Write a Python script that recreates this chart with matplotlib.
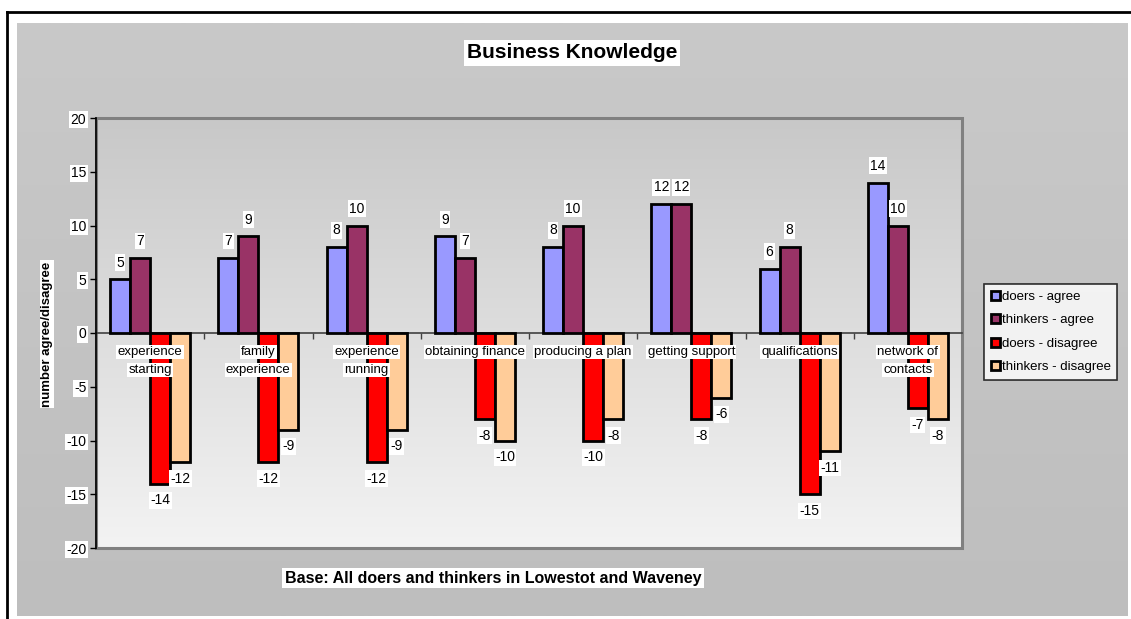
import numpy as np
import matplotlib
matplotlib.use("Agg")
import matplotlib.pyplot as plt
from matplotlib.patches import Rectangle
from matplotlib.lines import Line2D

plt.rcParams['font.family'] = ['Liberation Sans', 'DejaVu Sans']
plt.rcParams['axes.unicode_minus'] = False

# data
categories = ["experience\nstarting", "family\nexperience", "experience\nrunning",
              "obtaining finance", "producing a plan", "getting support",
              "qualifications", "network of\ncontacts"]
series_names = ["doers - agree", "thinkers - agree", "doers - disagree", "thinkers - disagree"]
doers_agree = [5, 7, 8, 9, 8, 12, 6, 14]
thinkers_agree = [7, 9, 10, 7, 10, 12, 8, 10]
doers_disagree = [-14, -12, -12, -8, -10, -8, -15, -7]
thinkers_disagree = [-12, -9, -9, -10, -8, -6, -11, -8]
colors = ["#9999FF", "#993366", "#FF0000", "#FFCC99"]

W, H = 1131, 619
fig = plt.figure(figsize=(W / 100, H / 100), dpi=100)
fig.patch.set_facecolor("white")

# outer grey chart area with soft vertical gradient
bg = fig.add_axes([17 / W, 1 - 616 / H, (1128 - 17) / W, (616 - 23) / H], zorder=-5)
grad = np.linspace(0, 1, 256).reshape(-1, 1)
bg.imshow(grad, aspect='auto', cmap=matplotlib.colors.LinearSegmentedColormap.from_list(
    'g', ["#C9C9C9", "#BEBEBE"]), extent=[0, 1, 0, 1], origin='upper')
bg.set_axis_off()

# black border (top and left)
fig.add_artist(Line2D([7 / W, 1], [1 - 12 / H, 1 - 12 / H], color='black', lw=2, transform=fig.transFigure))
fig.add_artist(Line2D([7 / W, 7 / W], [0, 1 - 12 / H], color='black', lw=2, transform=fig.transFigure))

ax = fig.add_axes([96 / W, 1 - 548 / H, (962 - 96) / W, (548 - 118) / H])
ax.set_xlim(-0.5, len(categories) - 0.5)
ax.set_ylim(-20, 20)
ax.imshow(grad, aspect='auto', cmap=matplotlib.colors.LinearSegmentedColormap.from_list(
    'p', ["#C8C8C8", "#F3F3F3"]), extent=[0, 1, 0, 1], origin='upper',
    transform=ax.transAxes, zorder=0)
ax.add_patch(Rectangle((0, 0), 1, 1, transform=ax.transAxes, fill=False,
                       edgecolor='#808080', lw=2.2, zorder=1, clip_on=False))

white_box = dict(boxstyle='square,pad=0.1', fc='white', ec='none')

x = np.arange(len(categories))
w = 1 / 5.4
all_series = [doers_agree, thinkers_agree, doers_disagree, thinkers_disagree]
handles = []
for j, (vals, c) in enumerate(zip(all_series, colors)):
    bars = ax.bar(x + (j - 1.5) * w, vals, width=w, color=c, edgecolor='black',
                  linewidth=2, zorder=3, label=series_names[j])
    handles.append(bars)
    for xi, v in zip(x + (j - 1.5) * w, vals):
        ax.annotate(str(v), (xi, v), xytext=(0, 12 if v > 0 else -12),
                    textcoords='offset points', ha='center', va='center',
                    fontsize=10, zorder=5, bbox=white_box)

# category labels drawn over the bars, one white box per line
for xi, cat in zip(x, categories):
    for k, line in enumerate(cat.split("\n")):
        ax.annotate(line, (xi, 0), xytext=(0, -13.7 - 13 * k), textcoords='offset points',
                    ha='center', va='center', fontsize=9.5, zorder=6, bbox=white_box)

# axes styling
for s in ['top', 'right']:
    ax.spines[s].set_visible(False)
ax.spines['left'].set_color('black')
ax.spines['left'].set_linewidth(1.2)
ax.spines['left'].set_zorder(4)
ax.spines['bottom'].set_position(('data', 0))
ax.spines['bottom'].set_color('#404040')
ax.spines['bottom'].set_linewidth(1.2)
ax.spines['bottom'].set_zorder(2)

ax.set_yticks(np.arange(-20, 21, 5))
ax.tick_params(axis='y', direction='out', length=4, width=1, labelsize=10, pad=3)
for lab in ax.get_yticklabels():
    lab.set_bbox(white_box)

ax.set_xticks([])
ax.set_xticks(np.arange(0.5, len(categories) - 0.5, 1), minor=True)
ax.tick_params(axis='x', which='minor', length=4, width=1, direction='out', color='#404040')

fig.text(47 / W, 1 - 334 / H, "number agree/disagree", rotation=90, ha='center', va='center',
         fontsize=9.5, fontweight='bold', bbox=white_box)

fig.text(572 / W, 1 - 53 / H, "Business Knowledge", ha='center', va='center',
         fontsize=15, fontweight='bold',
         bbox=dict(boxstyle='square,pad=0.15', fc='white', ec='none'))
fig.text(493 / W, 1 - 578 / H, "Base: All doers and thinkers in Lowestot and Waveney",
         ha='center', va='center', fontsize=11.5, fontweight='bold',
         bbox=dict(boxstyle='square,pad=0.15', fc='white', ec='none'))

leg = fig.legend(handles=handles, labels=series_names, loc='center left',
                 bbox_to_anchor=(984 / W, 1 - 332 / H), fontsize=9.5, frameon=True,
                 fancybox=False, handlelength=0.7, handleheight=0.7, handletextpad=0.15,
                 borderpad=0.5, labelspacing=0.85, borderaxespad=0)
leg.get_frame().set_edgecolor('black')
leg.get_frame().set_linewidth(1.2)

fig.savefig("out.png", dpi=100)
